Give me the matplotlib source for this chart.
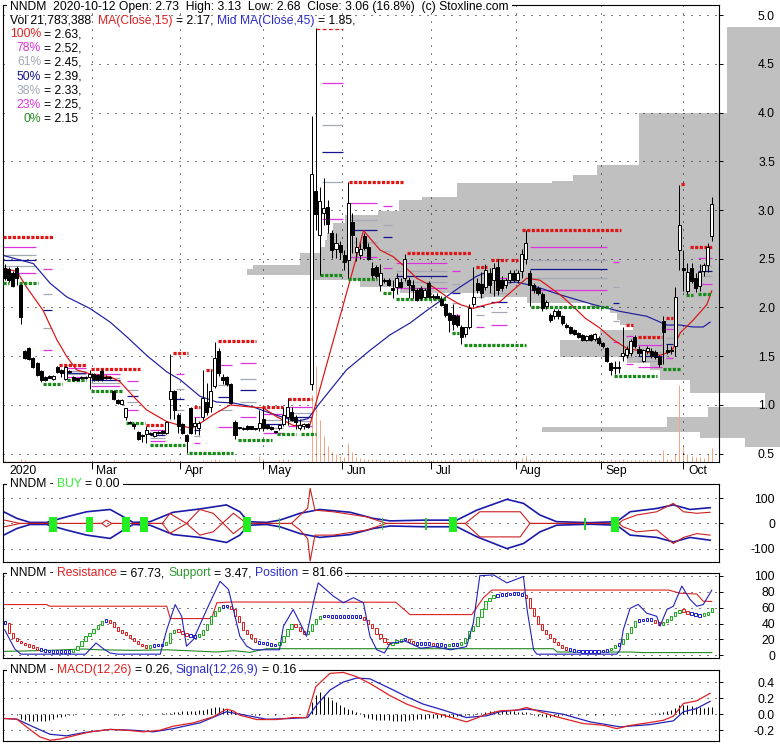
import numpy as np
import matplotlib
matplotlib.use("Agg")
import matplotlib.pyplot as plt
from matplotlib.patches import Rectangle
from matplotlib.transforms import blended_transform_factory, offset_copy

W, H = 780, 745
FS = 8.7
plt.rcParams['font.family'] = ['Liberation Sans', 'DejaVu Sans']
plt.rcParams['font.size'] = FS

RED = '#e02020'
BLUE = '#2c2cc8'
GREEN = '#1f8f1f'
MAG = '#dd33dd'
GRAY = '#a3a8b3'
NAVY = '#14148f'
LW = 0.72  # one pixel

# ---------------- daily candles (index 0 = first bar on the chart) ----------------
opens = [2.41, 2.39, 2.35, 2.41, 2.23, 1.55, 1.58, 1.48, 1.43, 1.35,
         1.29, 1.30, 1.27, 1.39, 1.36, 1.27, 1.35, 1.29, 1.27, 1.28,
         1.28, 1.29, 1.32, 1.31, 1.35, 1.29, 1.28, 1.14, 1.05, 1.01,
         0.88, 0.83, 0.80, 0.72, 0.69, 0.70, 0.71, 0.68, 0.71, 0.73,
         0.71, 1.06, 1.14, 0.90, 0.80, 0.69, 0.97, 0.78, 0.76, 0.88,
         1.03, 0.98, 1.19, 1.55, 1.29, 1.29, 1.22, 0.83, 0.76, 0.75,
         0.78, 0.78, 0.75, 0.76, 0.86, 0.79, 0.77, 0.73, 0.76, 0.80,
         0.88, 0.93, 0.88, 0.76, 0.78, 0.80, 1.22, 3.20, 2.74, 2.97,
         3.03, 2.76, 2.60, 2.64, 2.54, 2.49, 2.88, 2.57, 2.54, 2.73,
         2.62, 2.40, 2.42, 2.23, 2.28, 2.28, 2.20, 2.21, 2.26, 2.30,
         2.28, 2.23, 2.18, 2.20, 2.11, 2.25, 2.12, 2.12, 2.09, 2.04,
         1.94, 1.92, 1.91, 1.80, 1.73, 1.80, 2.04, 2.25, 2.24, 2.21,
         2.35, 2.28, 2.42, 2.28, 2.23, 2.28, 2.35, 2.28, 2.37, 2.50,
         2.35, 2.23, 2.20, 2.14, 2.02, 1.92, 1.91, 1.96, 1.91, 1.82,
         1.80, 1.77, 1.74, 1.72, 1.67, 1.72, 1.68, 1.69, 1.64, 1.58,
         1.43, 1.39, 1.38, 1.50, 1.51, 1.53, 1.70, 1.57, 1.45, 1.55,
         1.55, 1.54, 1.49, 1.86, 1.56, 1.55, 1.60, 2.59, 2.40, 2.17,
         2.40, 2.30, 2.22, 2.37, 2.44, 2.73]
highs = [2.45, 2.42, 2.37, 2.43, 2.24, 1.56, 1.59, 1.49, 1.44, 1.36,
         1.30, 1.31, 1.31, 1.40, 1.37, 1.40, 1.36, 1.30, 1.28, 1.30,
         1.30, 1.36, 1.33, 1.32, 1.37, 1.31, 1.30, 1.15, 1.06, 1.06,
         0.97, 0.84, 0.81, 0.73, 0.70, 0.78, 0.72, 0.72, 0.73, 0.74,
         0.84, 1.52, 1.15, 0.92, 0.82, 0.70, 0.98, 0.88, 0.84, 1.36,
         1.23, 1.36, 1.65, 1.58, 1.32, 1.30, 1.23, 0.85, 0.77, 0.77,
         0.79, 0.78, 0.76, 0.95, 0.97, 0.80, 0.78, 0.73, 0.80, 0.98,
         1.07, 0.98, 0.90, 0.86, 0.81, 0.81, 3.96, 4.87, 3.24, 3.33,
         3.10, 2.80, 2.76, 2.68, 2.59, 3.29, 2.97, 2.72, 2.66, 2.76,
         2.66, 2.47, 2.44, 2.45, 2.30, 2.30, 2.28, 2.35, 2.30, 2.55,
         2.31, 2.28, 2.20, 2.22, 2.20, 2.27, 2.14, 2.15, 2.12, 2.05,
         1.95, 2.04, 1.93, 1.82, 1.80, 2.04, 2.42, 2.30, 2.36, 2.45,
         2.40, 2.46, 2.50, 2.32, 2.30, 2.38, 2.38, 2.38, 2.60, 2.80,
         2.38, 2.25, 2.22, 2.16, 2.08, 1.94, 1.98, 1.98, 1.92, 1.84,
         1.81, 1.78, 1.75, 1.73, 1.72, 1.73, 1.74, 1.71, 1.65, 1.59,
         1.44, 1.45, 1.45, 1.80, 1.60, 1.68, 1.72, 1.60, 1.57, 1.60,
         1.58, 1.56, 1.51, 1.91, 1.63, 1.60, 2.21, 3.26, 2.59, 2.46,
         2.46, 2.35, 2.45, 2.46, 2.66, 3.13]
lows = [2.28, 2.26, 2.21, 2.23, 1.83, 1.47, 1.46, 1.38, 1.30, 1.24,
        1.25, 1.28, 1.26, 1.33, 1.29, 1.26, 1.33, 1.25, 1.25, 1.27,
        1.27, 1.16, 1.25, 1.25, 1.25, 1.27, 1.27, 1.05, 1.01, 1.00,
        0.85, 0.80, 0.75, 0.64, 0.62, 0.61, 0.69, 0.67, 0.70, 0.70,
        0.70, 0.86, 0.86, 0.71, 0.70, 0.51, 0.70, 0.70, 0.69, 0.85,
        0.90, 0.93, 1.17, 1.30, 1.22, 1.19, 1.01, 0.65, 0.75, 0.74,
        0.74, 0.75, 0.74, 0.73, 0.73, 0.75, 0.74, 0.71, 0.74, 0.78,
        0.79, 0.84, 0.75, 0.74, 0.75, 0.76, 1.15, 2.80, 2.33, 2.85,
        2.76, 2.51, 2.51, 2.50, 2.38, 2.30, 2.56, 2.48, 2.50, 2.59,
        2.49, 2.30, 2.30, 2.17, 2.25, 2.22, 2.10, 2.14, 2.20, 2.27,
        2.10, 2.10, 2.07, 2.08, 2.10, 2.10, 2.09, 2.09, 2.02, 1.90,
        1.75, 1.77, 1.80, 1.63, 1.70, 1.78, 2.00, 2.15, 2.10, 2.18,
        2.15, 2.12, 2.13, 2.17, 2.20, 2.25, 2.26, 2.25, 2.30, 2.45,
        2.02, 2.15, 2.13, 1.96, 1.98, 1.85, 1.88, 1.88, 1.82, 1.79,
        1.73, 1.72, 1.69, 1.66, 1.66, 1.66, 1.66, 1.62, 1.58, 1.44,
        1.31, 1.32, 1.33, 1.45, 1.48, 1.50, 1.58, 1.50, 1.44, 1.52,
        1.48, 1.47, 1.39, 1.42, 1.52, 1.52, 1.50, 2.38, 2.17, 2.14,
        2.25, 2.16, 2.17, 2.32, 2.36, 2.68]
closes = [2.30, 2.28, 2.22, 2.30, 1.90, 1.48, 1.47, 1.39, 1.31, 1.26,
          1.26, 1.28, 1.30, 1.34, 1.33, 1.39, 1.34, 1.26, 1.26, 1.29,
          1.29, 1.32, 1.27, 1.26, 1.27, 1.28, 1.29, 1.06, 1.02, 1.05,
          0.97, 0.81, 0.78, 0.65, 0.68, 0.74, 0.70, 0.72, 0.72, 0.71,
          0.83, 1.14, 0.95, 0.78, 0.71, 0.63, 0.71, 0.81, 0.82, 1.07,
          0.93, 1.14, 1.48, 1.33, 1.26, 1.22, 1.02, 0.69, 0.76, 0.76,
          0.75, 0.75, 0.75, 0.81, 0.76, 0.76, 0.75, 0.72, 0.79, 0.90,
          0.98, 0.85, 0.83, 0.79, 0.80, 0.77, 3.37, 2.96, 3.09, 3.02,
          2.86, 2.59, 2.66, 2.57, 2.47, 3.07, 2.74, 2.62, 2.60, 2.61,
          2.50, 2.33, 2.32, 2.35, 2.27, 2.23, 2.18, 2.30, 2.21, 2.50,
          2.23, 2.18, 2.08, 2.10, 2.18, 2.11, 2.11, 2.10, 2.03, 1.92,
          1.87, 1.83, 1.82, 1.70, 1.80, 1.99, 2.11, 2.18, 2.15, 2.38,
          2.23, 2.40, 2.18, 2.20, 2.28, 2.35, 2.28, 2.35, 2.55, 2.66,
          2.23, 2.18, 2.15, 1.99, 2.06, 1.87, 1.96, 1.91, 1.84, 1.80,
          1.74, 1.73, 1.70, 1.67, 1.71, 1.67, 1.73, 1.64, 1.60, 1.45,
          1.36, 1.38, 1.39, 1.53, 1.57, 1.66, 1.60, 1.53, 1.56, 1.58,
          1.50, 1.49, 1.42, 1.75, 1.54, 1.56, 2.11, 2.85, 2.38, 2.36,
          2.27, 2.20, 2.36, 2.44, 2.62, 3.06]
# volume in millions of shares
volume = [3, 2, 2, 2, 4, 3, 2, 2, 2, 2,
          2, 2, 2, 2, 2, 2, 2, 2, 2, 2,
          2, 2, 2, 2, 2, 2, 2, 3, 2, 2,
          3, 2, 2, 2, 2, 2, 2, 2, 2, 2,
          3, 4, 3, 2, 2, 2, 2, 2, 2, 3,
          2, 3, 4, 3, 2, 2, 2, 4, 2, 2,
          2, 2, 2, 10, 4, 2, 2, 2, 3, 5,
          4, 3, 2, 2, 2, 3, 104, 150, 66, 40,
          25, 15, 12, 10, 8, 30, 15, 8, 6, 5,
          5, 4, 4, 3, 3, 3, 3, 3, 3, 4,
          3, 3, 3, 3, 3, 3, 3, 3, 3, 3,
          3, 4, 3, 4, 3, 4, 6, 4, 3, 3,
          3, 3, 4, 3, 3, 3, 3, 3, 6, 10,
          5, 3, 3, 3, 3, 3, 3, 3, 3, 3,
          3, 3, 3, 3, 3, 3, 3, 3, 3, 3,
          4, 3, 3, 4, 3, 3, 3, 3, 3, 3,
          3, 3, 3, 18, 4, 4, 13, 120, 25, 12,
          10, 8, 8, 7, 12, 21.8]

# moving averages
ma15_x = [0, 3, 5.4, 9.5, 12.9, 15.3, 17.8, 21.9, 26.1, 28.5, 31.8, 35.1, 40.1, 43.4, 46.3,
          48.3, 51.6, 55.8, 60.7, 64, 67.3, 71.4, 75.5, 87.1, 88.8, 92.9, 96.2, 99.5, 102,
          106.1, 109.4, 112.7, 116, 119.3, 122.6, 125.9, 129.2, 132.5, 137.5, 140.7, 143.7,
          147.3, 150.6, 154, 158.1, 162.2, 165.1, 167.2, 170.4, 173.8, 175]
ma15_v = [2.40, 2.37, 2.21, 1.97, 1.67, 1.50, 1.36, 1.31, 1.29, 1.24, 1.09, 0.95, 0.83, 0.79, 0.76,
          0.81, 0.90, 1.00, 0.98, 0.97, 0.88, 0.79, 0.79, 2.52, 2.79, 2.59, 2.52, 2.40, 2.30,
          2.21, 2.11, 2.03, 1.99, 2.03, 2.06, 2.18, 2.30, 2.28, 2.13, 2.01, 1.89,
          1.79, 1.67, 1.58, 1.55, 1.51, 1.55, 1.74, 1.87, 2.03, 2.17]
ma45_x = [0, 7.1, 11.2, 15.3, 21.1, 26.1, 30.2, 35.1, 40.1, 43.4, 48.3, 52.5, 56.6, 61.5, 64.8,
          69.8, 73.1, 75.1, 78.0, 81.3, 84.6, 87.5, 90.4, 95.4, 100.3, 104.5, 108.6, 112.7,
          116.8, 118.5, 122.6, 126.7, 130.0, 132.5, 137.5, 145.7, 152.3, 158.9, 163.9, 167.2,
          170.4, 172.9, 174.6]
ma45_v = [2.53, 2.45, 2.25, 2.11, 1.99, 1.85, 1.70, 1.51, 1.34, 1.26, 1.09, 1.03, 1.02, 0.98, 0.93,
          0.86, 0.84, 0.86, 1.02, 1.19, 1.36, 1.46, 1.56, 1.72, 1.84, 1.97, 2.09, 2.21,
          2.32, 2.35, 2.25, 2.26, 2.23, 2.20, 2.13, 2.03, 1.96, 1.91, 1.82, 1.82,
          1.80, 1.80, 1.85]

# resistance (red) and support (green) levels: first bar, last bar, price
res_i0 = [-0.4, 13.4, 21.4, 41.7, 52.8, 49.8, 46.9, 35, 63.7, 70.1, 85.2, 99.6, 116.7, 120.4,
          125.3, 128.1, 153.8, 156.8, 163.7, 167.5, 169.6]
res_i1 = [12, 20.1, 33.5, 45.4, 62.2, 51.3, 48.3, 39.7, 68.9, 76.1, 98.6, 115.4, 119.4, 124.3,
          127.1, 152.6, 155.5, 162.7, 165.4, 168.3, 175.1]
res_lv = [2.72, 1.41, 1.37, 1.53, 1.66, 1.36, 0.98, 0.79, 0.98, 1.06, 3.29, 2.556, 2.42, 2.49,
          2.49, 2.795, 1.82, 1.70, 1.89, 3.27, 2.617]
peak_i0, peak_i1, peak_lv = [77.1], [83.7], [4.86]
sup_i0 = [-0.4, 3.5, 9.5, 15.4, 21.4, 30, 36, 45.6, 57.7, 67.4, 73.4, 78.0, 85, 93.6, 96.9,
          110.7, 113.7, 130.3, 150.8, 162.9, 168.6, 171.6]
sup_i1 = [1.1, 8.2, 14.2, 20.1, 29.0, 34.7, 44.6, 56.5, 66.2, 72.1, 77.1, 83.7, 92.1, 95.6, 109.5,
          112.5, 129.0, 149.6, 161.5, 167.4, 170.4, 175.1]
sup_lv = [2.25, 2.25, 1.22, 1.256, 1.14, 0.82, 0.587, 0.505, 0.638, 0.70, 0.70, 2.33, 2.29, 2.146,
          2.087, 1.74, 1.62, 2.00, 1.297, 1.366, 2.128, 2.135]

# fibonacci retracement blocks: first bar, last bar, 0% level, 100% level
fib_i0 = [-0.4, 9.5, 15.4, 21.4, 30.3, 36, 42.4, 46.9, 52.8, 58.2, 63.9, 70.1, 78.5, 85, 93.6,
          96.9, 110.7, 116.7, 120.4, 130, 150.6, 153.8, 156.8, 163.7, 171.6]
fib_i1 = [7.7, 11.7, 20.1, 28.5, 33, 39.7, 44.4, 48.3, 56.3, 62.2, 68.9, 76.1, 83.7, 92.1, 95.9,
          109.5, 112.7, 118.6, 124.3, 149.1, 152.1, 155.5, 162.7, 165.4, 175.1]
fib_lo = [2.25, 1.22, 1.256, 1.14, 0.82, 0.587, 0.587, 0.505, 0.505, 0.638, 0.638, 0.70, 2.33,
          2.29, 2.146, 2.087, 1.74, 1.62, 1.62, 2.00, 1.297, 1.297, 1.297, 1.366, 2.135]
fib_hi = [2.72, 2.72, 1.41, 1.37, 1.37, 0.79, 1.53, 0.98, 1.66, 1.66, 0.98, 1.06, 4.86,
          3.29, 3.29, 2.556, 2.556, 2.42, 2.49, 2.795, 2.795, 1.82, 1.70, 1.89, 2.617]
fib_ratio = [0.78, 0.61, 0.50, 0.38, 0.23]
fib_color = [MAG, GRAY, NAVY, GRAY, MAG]

# volume-at-price profile: price band edges (top to bottom) and bar length
vp_edges = [4.88, 3.99, 3.46, 3.36, 3.30, 3.28, 3.13, 3.10, 2.99, 2.95,
            2.87, 2.76, 2.69, 2.62, 2.56, 2.44, 2.39, 2.33, 2.28, 2.21,
            2.15, 2.11, 2.05, 2.00, 1.94, 1.87, 1.82, 1.77, 1.67, 1.56,
            1.49, 1.43, 1.36, 1.26, 1.12, 0.98, 0.88, 0.77, 0.72, 0.66, 0.57]
vp_width = [53, 141, 183, 207, 228, 323, 358, 381, 402, 435,
            447, 453, 455, 460, 480, 527, 533, 467, 420, 380,
            300, 253, 190, 170, 163, 160, 147, 180, 220, 220,
            153, 130, 120, 90, 15, 72, 113, 238, 80, 35]

# BUY panel
buy_x = [0, 3, 6.3, 10.4, 15.3, 20.3, 26.1, 29.4, 31.8, 36, 41.7, 48.3, 54.9, 58.2, 60.3,
         64.8, 68.1, 73.1, 78, 85.5, 91.2, 95.4, 103.6, 111.9, 116.8, 124.3, 128.4, 132.5,
         136.6, 144.9, 151.5, 154.8, 161.4, 165.5, 169.6, 174.6]
buy_up = [44, 20, 4, 4, 26, 46, 55, 26, 4, 7, 44, 57, 73, 46, 7, 4, 13, 40, 55, 44, 20, 10,
          13, 13, 52, 95, 79, 33, 7, 3, 7, 46, 59, 73, 55, 62]
buy_dn = [-44, -20, -4, -4, -26, -46, -59, -26, -4, -7, -44, -55, -75, -46, -7, -4, -13, -40,
          -55, -44, -20, -10, -13, -13, -52, -99, -79, -33, -7, -3, -7, -46, -55, -73, -55, -66]
red_x = [0, 3.8, 24, 25.2, 26.5, 39, 40.9, 45, 48.3, 51.6, 56.6, 59.9, 71, 73.1, 75, 75.6,
         76.8, 81.3, 89.6, 94.5, 114, 117.6, 127.6, 130, 152, 153, 156.4, 161.4, 165.5, 168,
         171.3, 174.6]
red_a = [13, 0, 0, 13, 0, 0, 39, 0, 55, 40, -40, 0, 0, 33, 60, 138, 52, 46, 26, 0, 0, 46, 46,
         0, 0, 13, 33, 46, 79, 46, 40, 44]
red_b = [-13, 0, 0, -13, 0, 0, -39, 0, -46, -33, 40, 0, 0, -26, -60, -148, -46, -46, -26, 0,
         0, -53, -53, 0, 0, -13, -33, -26, -79, -55, -40, -46]
buy_big = [12, 21, 30, 34.5, 60, 111, 151]
buy_small = [68, 93.5, 104.3, 143.6]

# Resistance / Support / Position panel
rline_x = [0, 10.4, 11.2, 40.1, 41, 51.2, 52.5, 56, 96.8, 100.3, 115.6, 118.5, 120.6, 164.3,
           167.2, 171.3, 172.9, 175]
rline_v = [63.8, 63.8, 61.7, 61.7, 46.2, 46.2, 66, 67, 66.7, 51.2, 51.2, 72.4, 82, 82, 78, 77,
           68, 67.7]
sline_x = [0, 11, 19.5, 23.6, 31.8, 40, 47, 52.5, 56.6, 60.7, 64.8, 95.4, 135.8, 136.8, 154.7,
           158, 175]
sline_v = [5, 6.3, 8, 7, 6.3, 7, 5.5, 4.2, 5.9, 3.8, 8.4, 8.4, 8.4, 4.2, 4.2, 3.5, 3.5]
pos_x = [0, 2.5, 4, 20, 22.6, 24.5, 26.1, 28, 38.5, 40.1, 42.2, 43.8, 45, 46.7, 50, 53.3, 55.4,
         56.6, 58.2, 59.9, 61.5, 68, 69, 71.4, 73.1, 74.7, 76.4, 77.6, 81.3, 83.8, 86.3, 88.8,
         90.4, 92.1, 94, 95.4, 99.1, 103, 106.3, 110.4, 114.3, 116, 117.6, 121, 124.3, 128.4,
         129.3, 130.9, 131.7, 151.5, 152.3, 153.1, 154.8, 156.8, 158.9, 161.4, 162.2, 163.9,
         165.5, 167.6, 169.6, 171.3, 172.9, 175]
pos_v = [32, 8, 1.5, 1.5, 15.5, 8, 3, 1.5, 1.5, 32, 63.8, 49, 11.5, 20, 57.5, 93, 82.7, 57.5,
         24, 11.5, 7, 7, 36.6, 57.5, 40.8, 24, 66, 91, 74.6, 66, 72.4, 66, 24, 7, 3, 15, 18, 9,
         11, 7, 11, 40.8, 100, 101, 91, 99, 57.5, 7, 1.5, 1.5, 7, 32, 59, 64, 53, 49, 36.6,
         57.5, 61.7, 87, 70.4, 61.7, 63.8, 81.7]
osc = [40.8, 28, 22, 18, 15.7, 13, 11.5, 10, 8, 7,
       6, 5, 4.5, 4.5, 5, 5, 4.5, 7, 12, 18,
       24, 28, 33, 38, 43, 44, 42, 36, 31, 28,
       26, 22, 18, 14, 12, 10, 12, 13, 13, 13,
       16, 28, 32, 30, 28, 25, 24, 24, 26, 32,
       40, 49, 56, 61, 62, 62, 58, 50, 42, 32,
       27, 22, 17, 16, 15, 14, 13, 13, 17, 24,
       33, 40, 36, 30, 27, 30, 40, 46, 49, 50,
       49, 49, 49, 49, 48, 49, 49, 49, 48, 44,
       40, 34, 27, 22, 17, 14, 16, 18, 20, 21,
       17, 15, 14, 15, 14, 15, 13, 14, 13, 12,
       14, 13, 14, 16, 22, 30, 37, 48, 58, 68,
       72, 75, 76, 76, 77, 77, 78, 77, 76, 72,
       60, 50, 40, 32, 27, 22, 17, 13, 10, 8,
       7, 6, 5, 4.5, 4.5, 4.5, 5, 5, 6, 7,
       9, 13, 14, 20, 28, 36, 43, 44, 45, 45,
       45, 41, 39, 42, 45, 50, 54, 57, 55, 53,
       52, 51, 50, 52, 54, 60]

# MACD panel
macd_x = [0, 3, 5.4, 8.7, 11.2, 13.7, 17, 21.1, 26.1, 30.2, 34.3, 38.4, 41.7, 46.7, 51.6, 54.9,
          56.6, 58.2, 62.4, 67.3, 71.4, 74.7, 76, 77, 80.5, 83.8, 87.1, 90.4, 95.4, 99.5,
          103.6, 108.6, 114.3, 119.3, 122.6, 126.7, 129.2, 132.5, 136.6, 143.2, 148.2, 151.5,
          154.8, 159.7, 163.1, 165.5, 168, 171.3, 174.6]
macd_v = [-0.054, -0.062, -0.158, -0.283, -0.325, -0.31, -0.27, -0.22, -0.19, -0.2, -0.22, -0.2,
          -0.15, -0.108, -0.033, 0.0625, 0.04, -0.0125, -0.067, -0.067, -0.042, -0.042, 0.175,
          0.342, 0.508, 0.52, 0.467, 0.383, 0.23, 0.125, 0.05, -0.0125, -0.096, 0.0, 0.042,
          0.05, 0.083, 0.03, -0.033, -0.117, -0.1375, -0.18, -0.14, -0.104, -0.075, -0.025,
          0.133, 0.167, 0.26]
signal_x = [0, 3, 7.1, 11.2, 15.3, 19.5, 26.1, 31.8, 36.8, 41.7, 48.3, 54.9, 58.2, 64.8, 70.6,
            75, 77.2, 80.5, 83.8, 87.1, 90.4, 95.4, 99.5, 103.6, 108.6, 114.3, 119.3, 122.6,
            129.2, 132.5, 138.2, 144.9, 152.3, 159.7, 165.5, 168, 171.3, 174.6]
signal_v = [-0.054, -0.062, -0.158, -0.25, -0.27, -0.23, -0.19, -0.2, -0.22, -0.18, -0.108,
            0.03, 0.0, -0.063, -0.054, -0.042, 0.1125, 0.30, 0.40, 0.45, 0.44, 0.32, 0.217,
            0.125, 0.05, -0.042, -0.02, 0.03, 0.0625, 0.045, 0.0, -0.096, -0.158, -0.13,
            -0.083, 0.03, 0.071, 0.16]
hist = [0, 0, 0, -0.01, -0.06, -0.07, -0.08, -0.09, -0.09, -0.085,
        -0.08, -0.07, -0.06, -0.04, -0.03, -0.02, -0.01, -0.008, 0.006, 0.006,
        0.006, 0.006, 0.006, 0.006, 0.006, 0.006, 0.006, -0.006, -0.006, -0.006,
        0.006, 0.006, 0.006, 0.006, -0.006, 0.006, 0.006, 0.006, 0.006, 0.01,
        0.015, 0.02, 0.03, 0.03, 0.035, 0.04, 0.04, 0.045, 0.05, 0.055,
        0.065, 0.075, 0.085, 0.085, 0.08, 0.07, 0.05, 0.03, 0.01, 0.006,
        0.006, 0.006, -0.006, -0.006, 0.006, 0.006, 0.006, -0.006, 0.006, 0.006,
        0.006, 0.006, 0.006, 0.006, 0.006, 0.006, 0.15, 0.24, 0.27, 0.24,
        0.21, 0.18, 0.15, 0.12, 0.09, 0.07, 0.05, 0.03, 0.01, -0.04,
        -0.05, -0.06, -0.07, -0.07, -0.07, -0.07, -0.08, -0.08, -0.08, -0.08,
        -0.075, -0.07, -0.065, -0.06, -0.055, -0.05, -0.05, -0.045, -0.04, -0.035,
        -0.03, -0.03, -0.025, -0.02, -0.015, -0.01, -0.005, 0.01, 0.02, 0.03,
        0.035, 0.04, 0.04, 0.04, 0.04, 0.035, 0.035, 0.03, 0.03, 0.025,
        0.02, -0.01, -0.02, -0.025, -0.03, -0.03, -0.025, -0.02, -0.006, -0.006,
        -0.006, 0.006, -0.006, 0.006, -0.006, 0.006, -0.006, 0.006, -0.006, 0.006,
        0.006, -0.006, 0.006, 0.006, 0.006, 0.006, 0.006, 0.006, 0.006, 0.006,
        0.006, 0.01, 0.02, 0.03, 0.04, 0.05, 0.08, 0.12, 0.12, 0.11,
        0.10, 0.09, 0.085, 0.08, 0.09, 0.09]

month_pos = [21.5, 43.5, 64, 83.5, 105.5, 126.5, 147.5, 168]
month_lab = ['Mar', 'Apr', 'May', 'Jun', 'Jul', 'Aug', 'Sep', 'Oct']
price_ticks = [0.5, 1.0, 1.5, 2.0, 2.5, 3.0, 3.5, 4.0, 4.5, 5.0]

# ---------------- figure ----------------
fig = plt.figure(figsize=(W / 100, H / 100), dpi=100)
renderer = fig.canvas.get_renderer()


def box(l, t, r, b):
    return [l / W, 1 - b / H, (r - l) / W, (b - t) / H]


def white_rect(l, t, r, b):
    fig.add_artist(Rectangle((l / W, 1 - b / H), (r - l) / W, (b - t) / H,
                             transform=fig.transFigure, facecolor='white',
                             edgecolor='none', zorder=3))


XL = (-0.42, 176.8)
PLIM = (0.415, 5.103)
DOT = (0, (1, 7))
SQ = (0, (1, 0.45))
idx = np.arange(len(closes))

# volume-at-price, anchored to the right edge
ax_vp = fig.add_axes(box(3, 5, 780, 462))
e = np.array(vp_edges)
ax_vp.barh(e[1:], vp_width, height=e[:-1] - e[1:], align='edge', color='#c0c0c0', lw=0)
ax_vp.set_xlim(777, 0)
ax_vp.set_ylim(*PLIM)
ax_vp.axis('off')

ax_vol = fig.add_axes(box(3, 5, 719, 462))
ax_vol.vlines(idx, 0, volume, color='#f2a888', lw=LW)
ax_vol.set_xlim(*XL)
ax_vol.set_ylim(0, 711)
ax_vol.axis('off')

ax = fig.add_axes(box(3, 5, 719, 462))
ax.set_facecolor('none')
ax.set_xlim(*XL)
ax.set_ylim(*PLIM)
for y in price_ticks:
    ax.axhline(y, color='black', lw=LW, ls=DOT, zorder=1)
for x in month_pos:
    ax.axvline(x, color='black', lw=LW, ls=DOT, zorder=1)

for i0, i1, lo, hi in zip(fib_i0, fib_i1, fib_lo, fib_hi):
    for r, c in zip(fib_ratio, fib_color):
        ax.hlines(lo + r * (hi - lo), i0, i1, color=c, lw=0.9, zorder=2)

ax.plot(ma45_x, ma45_v, color='#1c1ca0', lw=0.85, zorder=3)
ax.plot(ma15_x, ma15_v, color='#dd1111', lw=0.85, zorder=3)

ax.hlines(res_lv, res_i0, res_i1, colors='#e01515', lw=2.3, linestyles=[SQ], zorder=3)
ax.hlines(sup_lv, sup_i0, sup_i1, colors='#178a17', lw=2.3, linestyles=[SQ], zorder=3)
ax.hlines(peak_lv, peak_i0, peak_i1, colors='#e01515', lw=0.9, linestyles=[(0, (3, 2))], zorder=3)

o, hgh, low, c = map(np.array, (opens, highs, lows, closes))
up = c >= o
ax.vlines(idx, low, hgh, color='black', lw=LW, zorder=4)
ax.bar(idx, np.maximum(np.abs(c - o), 0.012), bottom=np.minimum(o, c), width=0.75,
       color=np.where(up, 'white', 'black'), edgecolor='black', lw=LW, zorder=5)

ax.yaxis.tick_right()
ax.set_yticks(price_ticks, [f'{v:.1f}' for v in price_ticks], ha='right')
ax.tick_params(axis='y', length=3, width=LW, pad=37.3, labelsize=FS)
ax.set_xticks(month_pos)
ax.tick_params(axis='x', length=5, width=LW, labelbottom=False)
for s in ax.spines.values():
    s.set_linewidth(0.8)

trans = offset_copy(blended_transform_factory(ax.transData, ax.transAxes), fig=fig,
                    x=4.5, y=-9, units='dots')
ax.text(0.1, 0, '2020', transform=trans, ha='left', va='center', fontsize=FS)
for x, lab in zip(month_pos, month_lab):
    ax.text(x, 0, lab, transform=trans, ha='left', va='center', fontsize=FS)


def panel(t, b, ylim, ticks, labels):
    a = fig.add_axes(box(3, t, 719, b))
    a.set_xlim(*XL)
    a.set_ylim(*ylim)
    a.set_xticks([])
    a.yaxis.tick_right()
    a.set_yticks(ticks, labels, ha='right')
    a.tick_params(axis='y', length=3, width=LW, pad=37.3, labelsize=FS)
    for y in ticks:
        a.axhline(y, color='black', lw=LW, ls=DOT, zorder=0)
    for s in a.spines.values():
        s.set_linewidth(0.8)
    return a


ax_b = panel(484, 562, (-151.8, 155.3), [-100, 0, 100], ['-100', '0', '100'])
ax_b.plot(buy_x, buy_up, color='#1a1aaa', lw=1.2)
ax_b.plot(buy_x, buy_dn, color='#1a1aaa', lw=1.2)
ax_b.plot(red_x, red_a, color='#cc2020', lw=0.8)
ax_b.plot(red_x, red_b, color='#cc2020', lw=0.8)
ax_b.bar(buy_big, 59, bottom=-33, width=1.9, color='#22ee22', zorder=4)
ax_b.bar(buy_small, 46, bottom=-26, width=0.35, color='#33cc33', zorder=4)

ax_r = panel(573, 658, (-3.3, 103.4), [0, 20, 40, 60, 80, 100],
             ['0', '20', '40', '60', '80', '100'])
ax_r.plot(rline_x, rline_v, color='#dd2222', lw=0.8)
ax_r.plot(sline_x, sline_v, color='#228822', lw=0.8)
ax_r.plot(pos_x, pos_v, color='#2222bb', lw=0.8, zorder=4)
ov = np.array(osc)
prev = np.r_[ov[0], ov[:-1]]
d = ov - prev
blo, bhi = np.minimum(ov, prev), np.maximum(ov, prev)
mid = (blo + bhi) / 2
small = bhi - blo < 3.5
blo = np.where(small, mid - 1.75, blo)
bhi = np.where(small, mid + 1.75, bhi)
cols = np.where(d > 1, '#22aa22', np.where(d < -1, '#dd2222', '#2222cc'))
ax_r.bar(idx, bhi - blo, bottom=blo, width=0.55, facecolor='white', edgecolor=cols,
         lw=LW, zorder=3)

ax_m = panel(670, 741, (-0.334, 0.55), [-0.2, 0.0, 0.2, 0.4], ['-0.2', '0.0', '0.2', '0.4'])
ax_m.vlines(idx, 0, hist, color='black', lw=LW)
ax_m.plot(signal_x, signal_v, color='#2222bb', lw=0.9)
ax_m.plot(macd_x, macd_v, color='#dd2222', lw=0.9)


# ---------------- header texts ----------------
def text_w(s):
    t = fig.text(0, 0, s, fontsize=FS)
    w = t.get_window_extent(renderer).width
    t.remove()
    return w


SPACE = text_w('x x') - text_w('xx')


def rich(x, y, parts, cover=False):
    x0 = x
    for s, col in parts:
        core = s.strip(' ')
        x += (len(s) - len(s.lstrip(' '))) * SPACE
        t = fig.text(x / W, 1 - y / H, core, color=col, fontsize=FS, ha='left', va='center',
                     zorder=4)
        x += t.get_window_extent(renderer).width + (len(s) - len(s.rstrip(' '))) * SPACE
    if cover:
        white_rect(x0 - 3, y - 6, x + 3, y + 6)


rich(10, 6.7, [('NNDM  2020-10-12 Open: 2.73  High: 3.13  Low: 2.68  Close: 3.06 (16.8%)  '
                '(c) Stoxline.com', 'black')], cover=True)
rich(10, 20.7, [('Vol 21,783,388  ', 'black'), ('MA(Close,15)', RED), (' = 2.17, ', 'black'),
                ('Mid MA(Close,45)', BLUE), (' = 1.85,', 'black')])

fib_lab = ['100%', '78%', '61%', '50%', '38%', '23%', '0%']
fib_val = ['= 2.63,', '= 2.52,', '= 2.45,', '= 2.39,', '= 2.33,', '= 2.25,', '= 2.15']
fib_lab_col = [RED, MAG, GRAY, NAVY, GRAY, MAG, GREEN]
white_rect(6, 27, 88, 127)
for k, (lab, val, col) in enumerate(zip(fib_lab, fib_val, fib_lab_col)):
    y = 1 - (34.3 + 14.07 * k) / H
    fig.text(41 / W, y, lab, color=col, fontsize=FS, ha='right', va='center', zorder=4)
    fig.text(44 / W, y, val, color='black', fontsize=FS, ha='left', va='center', zorder=4)

rich(10, 484, [('NNDM - ', 'black'), ('BUY', '#33ee33'), (' = 0.00', 'black')], cover=True)
rich(10, 573.3, [('NNDM - ', 'black'), ('Resistance', RED), (' = 67.73, ', 'black'),
                 ('Support', '#2e9a2e'), (' = 3.47, ', 'black'), ('Position', BLUE),
                 (' = 81.66', 'black')], cover=True)
rich(10, 670, [('NNDM - ', 'black'), ('MACD(12,26)', RED), (' = 0.26, ', 'black'),
               ('Signal(12,26,9)', BLUE), (' = 0.16', 'black')], cover=True)

fig.savefig('out.png', dpi=100)
